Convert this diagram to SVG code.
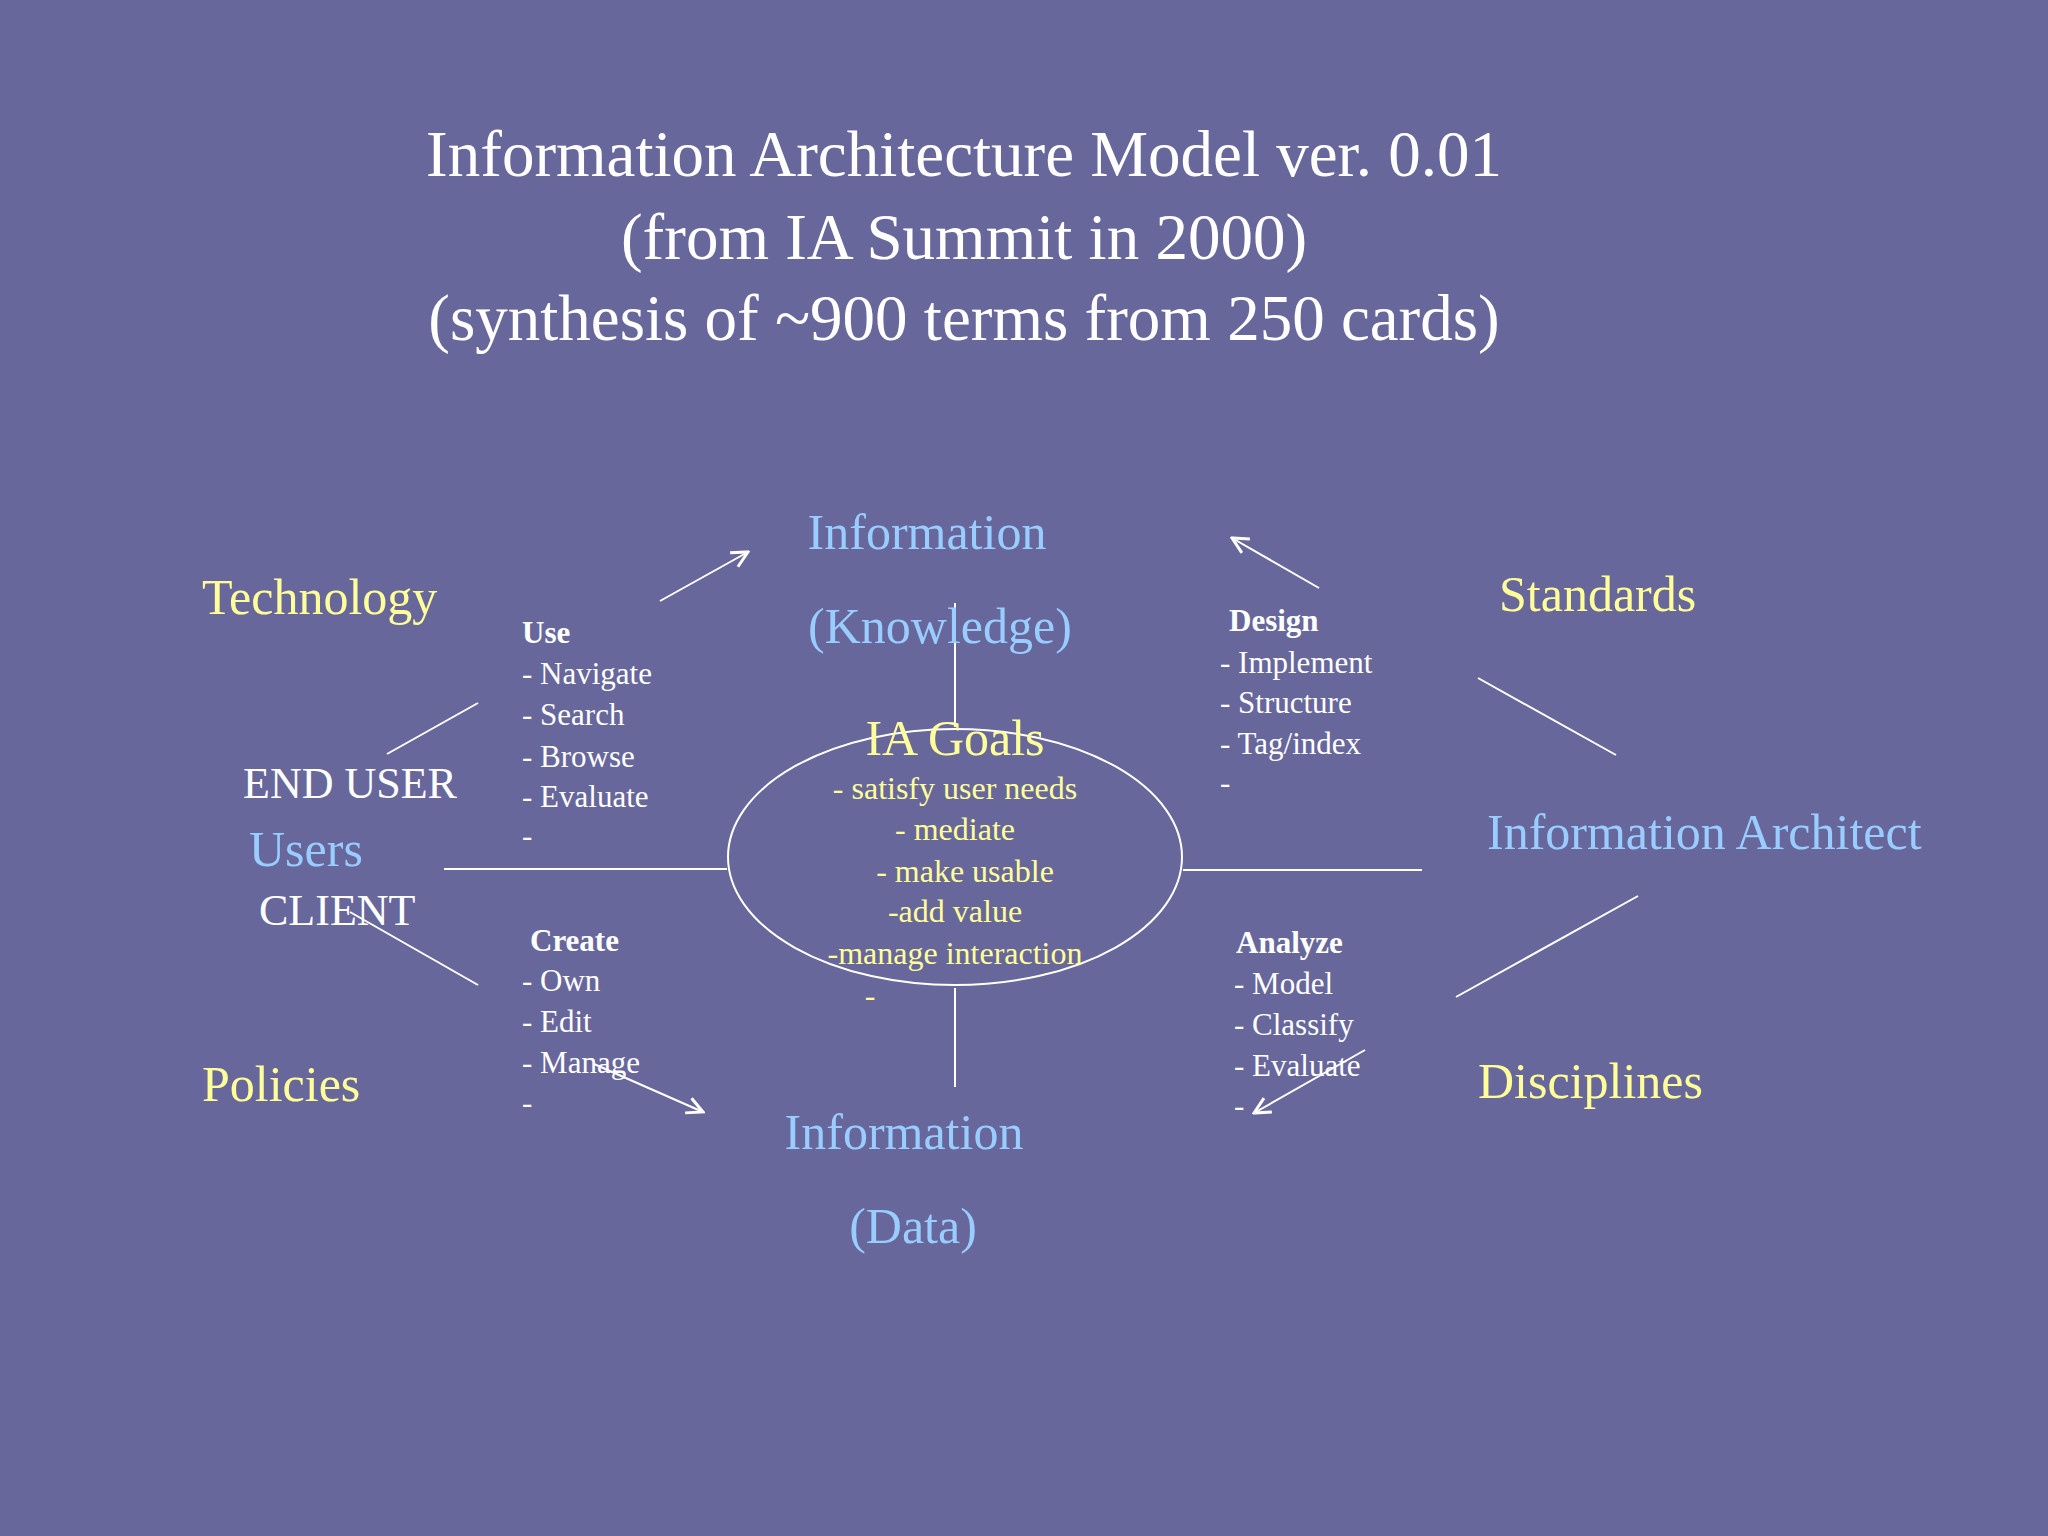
<svg xmlns="http://www.w3.org/2000/svg" width="2048" height="1536" viewBox="0 0 2048 1536">
<style>
text{font-family:"Liberation Serif","Times New Roman",serif}
.t{fill:#fff;font-size:65px;text-anchor:middle}
.y{fill:#ffff99}
.b{fill:#99ccff}
.w{fill:#fff}
.big{font-size:50px}
.sm{font-size:31px}
.g{font-size:32px;fill:#ffff99;text-anchor:middle}
.c{text-anchor:middle}
.ln{stroke:#fff;stroke-width:2;fill:none}
</style>
<defs>
<marker id="ar" viewBox="0 0 20 20" refX="18" refY="10" markerWidth="20" markerHeight="20" markerUnits="userSpaceOnUse" orient="auto">
<path d="M2,2 L18,10 L2,18" fill="none" stroke="#fff" stroke-width="3"/>
</marker>
</defs>
<rect width="2048" height="1536" fill="#68679c"/>
<g id="title">
<text class="t" x="964" y="176">Information Architecture Model ver. 0.01</text>
<text class="t" x="964" y="259">(from IA Summit in 2000)</text>
<text class="t" x="964" y="340">(synthesis of ~900 terms from 250 cards)</text>
</g>
<g id="connectors">
<line class="ln" x1="444" y1="869" x2="727" y2="869"/>
<line class="ln" x1="1183" y1="870" x2="1422" y2="870"/>
<line class="ln" x1="955" y1="603" x2="955" y2="727"/>
<line class="ln" x1="955" y1="988" x2="955" y2="1087"/>
<line class="ln" x1="660" y1="601" x2="748" y2="552" marker-end="url(#ar)"/>
<line class="ln" x1="1319" y1="588" x2="1232" y2="538" marker-end="url(#ar)"/>
<line class="ln" x1="594" y1="1064" x2="703" y2="1112" marker-end="url(#ar)"/>
<line class="ln" x1="1365" y1="1050" x2="1254" y2="1113" marker-end="url(#ar)"/>
<line class="ln" x1="387" y1="754" x2="478" y2="703"/>
<line class="ln" x1="350" y1="912" x2="478" y2="985"/>
<line class="ln" x1="1478" y1="678" x2="1616" y2="755"/>
<line class="ln" x1="1456" y1="997" x2="1638" y2="896"/>
</g>
<g id="info-knowledge">
<text class="b big c" x="927" y="549">Information</text>
<text class="b big c" x="940" y="643">(Knowledge)</text>
</g>
<g id="info-data">
<text class="b big c" x="904" y="1149">Information</text>
<text class="b big c" x="913" y="1243">(Data)</text>
</g>
<g id="ia-goals">
<ellipse cx="955" cy="857" rx="227" ry="128" class="ln"/>
<text class="y c" x="955" y="755" font-size="50">IA Goals</text>
<text class="g" x="955" y="799">- satisfy user needs</text>
<text class="g" x="955" y="840">- mediate</text>
<text class="g" x="965" y="882">- make usable</text>
<text class="g" x="955" y="922">-add value</text>
<text class="g" x="955" y="964">-manage interaction</text>
<text class="g" x="870" y="1006">-</text>
</g>
<g id="technology"><text class="y big" x="202" y="614">Technology</text></g>
<g id="standards"><text class="y big" x="1499" y="611">Standards</text></g>
<g id="policies"><text class="y big" x="202" y="1101">Policies</text></g>
<g id="disciplines"><text class="y big" x="1478" y="1098">Disciplines</text></g>
<g id="information-architect"><text class="b big" x="1487" y="849">Information Architect</text></g>
<g id="users">
<text class="w" x="243" y="798" font-size="44">END USER</text>
<text class="b big" x="249" y="866">Users</text>
<text class="w" x="259" y="925" font-size="44">CLIENT</text>
</g>
<g id="use" class="sm">
<text class="w sm" x="522" y="643" font-weight="bold">Use</text>
<text class="w sm" x="522" y="684">- Navigate</text>
<text class="w sm" x="522" y="725">- Search</text>
<text class="w sm" x="522" y="767">- Browse</text>
<text class="w sm" x="522" y="807">- Evaluate</text>
<text class="w sm" x="522" y="846">-</text>
</g>
<g id="design">
<text class="w sm" x="1229" y="631" font-weight="bold">Design</text>
<text class="w sm" x="1220" y="673">- Implement</text>
<text class="w sm" x="1220" y="713">- Structure</text>
<text class="w sm" x="1220" y="754">- Tag/index</text>
<text class="w sm" x="1220" y="793">-</text>
</g>
<g id="create">
<text class="w sm" x="530" y="951" font-weight="bold">Create</text>
<text class="w sm" x="522" y="991">- Own</text>
<text class="w sm" x="522" y="1032">- Edit</text>
<text class="w sm" x="522" y="1073">- Manage</text>
<text class="w sm" x="522" y="1113">-</text>
</g>
<g id="analyze">
<text class="w sm" x="1236" y="953" font-weight="bold">Analyze</text>
<text class="w sm" x="1234" y="994">- Model</text>
<text class="w sm" x="1234" y="1035">- Classify</text>
<text class="w sm" x="1234" y="1076">- Evaluate</text>
<text class="w sm" x="1234" y="1116">-</text>
</g>
</svg>
